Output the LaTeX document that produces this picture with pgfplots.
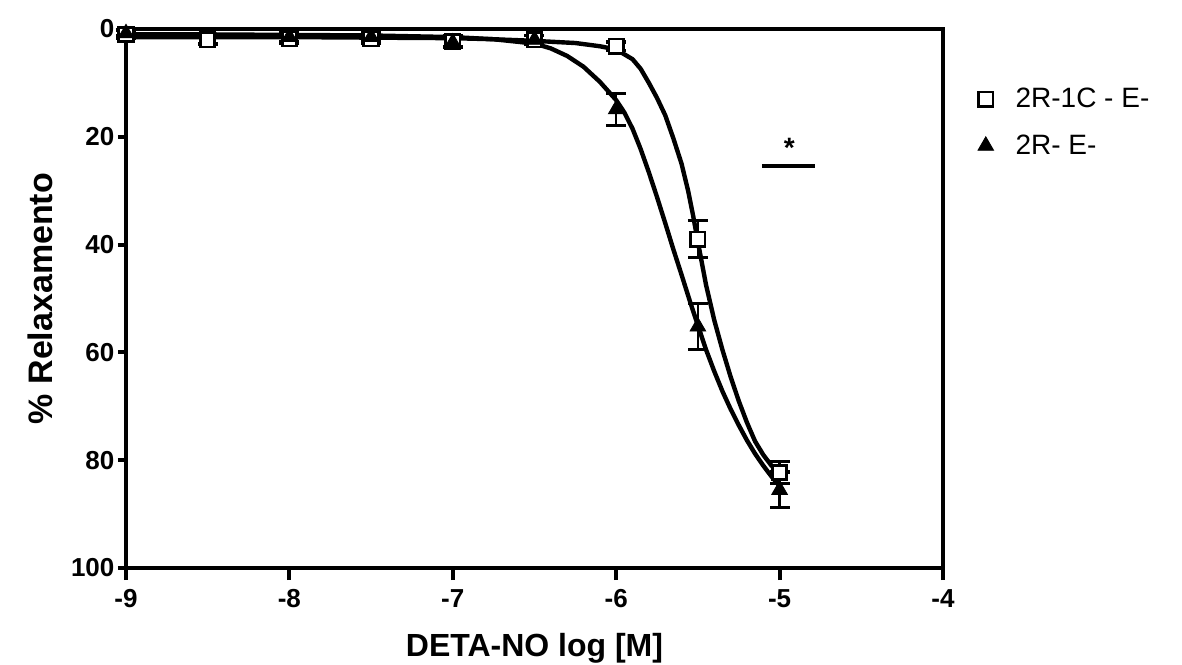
\documentclass[border=0pt]{standalone}
\usepackage{pgfplots}
\usepackage{pgfplotstable}
\pgfplotsset{compat=1.18}
\usepackage{fontspec}
\setmainfont{Liberation Sans}

\pgfplotstableread{
x y e
-9   1.0 0.8
-8.5 2.0 0.8
-8   1.8 0.8
-7.5 1.8 0.8
-7   2.3 1.0
-6.5 2.0 0.8
-6   3.2 0.8
-5.5 39.0 3.4
-5   82.3 2.0
}\sqdata

\pgfplotstableread{
x y e
-9   0.8 0.5
-8   1.5 0.8
-7.5 1.5 0.8
-7   2.5 1.0
-6.5 2.0 0.8
-6   14.9 3.0
-5.5 55.2 4.3
-5   85.5 3.3
}\tridata

\pgfplotstableread{
x y
-9 1.5
-8.5 1.5
-8 1.5
-7.5 1.6
-7 1.7
-6.75 1.9
-6.5 2.2
-6.25 2.6
-6.1 3.2
-6.0 3.8
-5.9 5.6
-5.85 7.4
-5.8 10.0
-5.75 12.8
-5.7 16.0
-5.65 20.3
-5.6 25.0
-5.56 30.0
-5.53 34.5
-5.5 39.5
-5.45 47.5
-5.4 54.0
-5.35 59.5
-5.3 64.5
-5.25 69.0
-5.2 73.0
-5.15 76.5
-5.1 79.0
-5.05 81.0
-5.0 82.3
}\sqfit

\pgfplotstableread{
x y
-9 1.0
-8.5 1.0
-8 1.1
-7.5 1.2
-7 1.5
-6.75 1.9
-6.5 2.7
-6.4 3.6
-6.3 5.0
-6.2 7.0
-6.1 9.8
-6.0 13.2
-5.95 15.5
-5.9 18.5
-5.85 22.3
-5.8 26.6
-5.75 31.2
-5.7 36.0
-5.65 40.9
-5.6 45.6
-5.55 50.4
-5.5 55.0
-5.45 59.5
-5.4 63.5
-5.35 67.2
-5.3 70.5
-5.25 73.5
-5.2 76.3
-5.15 78.8
-5.1 81.0
-5.05 83.0
-5.0 84.8
}\trifit

\begin{document}
\begin{tikzpicture}
\begin{axis}[
  scale only axis, width=408.5pt, height=269.5pt,
  xmin=-9, xmax=-4, ymin=0, ymax=100, y dir=reverse,
  axis line style={line width=2pt},
  xtick={-9,-8,-7,-6,-5,-4}, xticklabels={-9,-8,-7,-6,-5,-4},
  ytick={0,20,40,60,80,100}, yticklabels={0,20,40,60,80,100},
  tick align=outside, xtick pos=left, ytick pos=left,
  xtick style={/pgfplots/major tick length=6pt},
  ytick style={/pgfplots/major tick length=4pt},
  tick style={line width=2pt, black},
  ticklabel style={font=\bfseries\fontsize{13}{13}\selectfont},
  xticklabel style={yshift=-3pt},
  yticklabel style={xshift=2pt},
  xlabel={DETA-NO log [M]}, ylabel={\% Relaxamento},
  every axis x label/.style={at={(axis description cs:0.5,-0.1484)},anchor=center,font=\bfseries\fontsize{16}{16}\selectfont},
  every axis y label/.style={at={(axis description cs:-0.1053,0.5)},anchor=center,rotate=90,font=\bfseries\fontsize{17}{17}\selectfont},
  clip=false,
  legend style={draw=none, fill=none, at={(axis description cs:1.035,0.8265)}, anchor=west,
    font=\fontsize{14}{14}\selectfont, row sep=8pt, cells={anchor=west},
    /tikz/every odd column/.append style={column sep=9pt}},
]
\addplot[line width=2.2pt, black, no marks, forget plot] table[x=x,y=y] {\sqfit};
\addplot[line width=2.2pt, black, no marks, forget plot] table[x=x,y=y] {\trifit};

\addplot[only marks, mark=square*, mark size=3.6pt,
  mark options={fill=white, draw=black, line width=1.4pt},
  error bars/.cd, y dir=both, y explicit,
  error bar style={line width=1.3pt, black},
  error mark options={line width=1.6pt, mark size=5pt, black, rotate=90}]
  table[x=x, y=y, y error=e] {\sqdata};
\addlegendentry{2R-1C - E-}

\addplot[only marks, mark=triangle*, mark size=4.5pt,
  mark options={fill=black, draw=black},
  error bars/.cd, y dir=both, y explicit,
  error bar style={line width=1.3pt, black},
  error mark options={line width=1.6pt, mark size=5pt, black, rotate=90}]
  table[x=x, y=y, y error=e] {\tridata};
\addlegendentry{2R- E-}

\addplot[line width=2pt, black, no marks, forget plot] coordinates {(-5.108,25.5) (-4.783,25.5)};
\node[font=\bfseries\fontsize{14}{14}\selectfont] at (axis cs:-4.94,22) {*};

\coordinate (SW) at (axis cs:-9,100);
\coordinate (NE) at (axis cs:-4,0);
\end{axis}
\pgfresetboundingbox
\useasboundingbox ([xshift=-63pt,yshift=-48pt]SW) rectangle ([xshift=119.5pt,yshift=14.5pt]NE);
\end{tikzpicture}
\end{document}
